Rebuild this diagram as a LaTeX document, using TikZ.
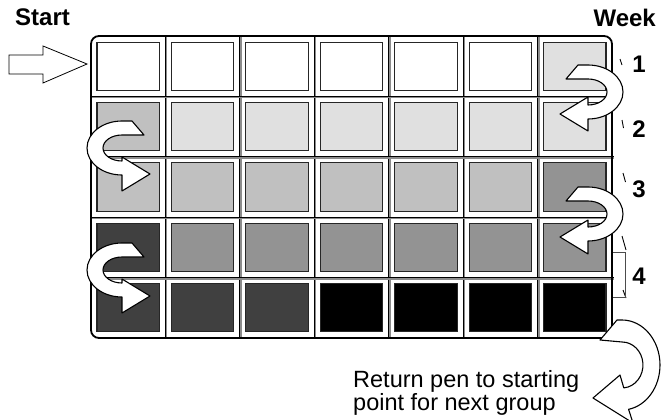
\documentclass[tikz,border=0pt]{standalone}
\usepackage{fontspec}
\setmainfont{Liberation Sans}
\definecolor{cA}{HTML}{FFFFFF}
\definecolor{cB}{HTML}{E0E0E0}
\definecolor{cC}{HTML}{C0C0C0}
\definecolor{cD}{HTML}{939393}
\definecolor{cE}{HTML}{404040}
\definecolor{cF}{HTML}{000000}
\newcommand\turnshape[1]{(-22,-13) -- (-10,-27) -- (0,-27)
  arc[start angle=-90,end angle=90,x radius=35,y radius=27]
  -- (0,{39+#1}) -- (-28,{22+#1}) -- (0,{5+#1}) -- (0,13)
  arc[start angle=90,end angle=-90,x radius=19,y radius=13] -- cycle}
\begin{document}
\begin{tikzpicture}[x=1pt,y=-1pt,
  lbl/.style={font=\bfseries\fontsize{24}{24}\selectfont, inner sep=0pt},
  plain/.style={font=\fontsize{23.5}{23}\selectfont, inner sep=0pt, anchor=base west},
  cellbox/.style={draw=black!85, line width=1.1pt, minimum width=62.4pt, minimum height=48.2pt, inner sep=0pt},
  gridgray/.style={draw=black!45, line width=2.4pt},
  gridblack/.style={draw=black, line width=0.9pt},
  turn/.style={draw=black, fill=white, line width=1.1pt, line join=round},
  tick/.style={draw=black, line width=0.9pt}]
\useasboundingbox (0,0) rectangle (662,420);
\clip (0,0) rectangle (662,420);
% grid lines
\foreach \i in {1,...,6} {
  \draw[gridgray] ({91+74.43*\i+0.8},36) -- ({91+74.43*\i+0.8},338);
  \draw[gridblack] ({91+74.43*\i},36) -- ({91+74.43*\i},338);
}
\foreach \j in {1,...,4} {
  \draw[gridgray] (91,{36+60.4*\j+0.8}) -- (614,{36+60.4*\j+0.8});
  \draw[gridblack] (91,{36+60.4*\j}) -- (614,{36+60.4*\j});
}
\draw[black, line width=1.8pt, rounded corners=8pt] (91,36) rectangle (612,338);
% cells
\foreach \r/\row in {1/{cA,cA,cA,cA,cA,cA,cB},
                     2/{cC,cB,cB,cB,cB,cB,cB},
                     3/{cC,cC,cC,cC,cC,cC,cD},
                     4/{cE,cD,cD,cD,cD,cD,cD},
                     5/{cE,cE,cE,cF,cF,cF,cF}} {
  \foreach \col [count=\c] in \row {
    \node[cellbox, fill=\col] (cell-\r-\c) at ({91+74.43*(\c-0.5)},{36+60.4*(\r-0.5)}) {};
  }
}
% labels
\node[lbl, anchor=base west] (start) at (15,26) {Start};
\node[lbl, anchor=base east] (week) at (656,27) {Week};
\node[lbl, anchor=base] (w1) at (639,73) {1};
\node[lbl, anchor=base] (w2) at (639,137) {2};
\node[lbl, anchor=base] (w3) at (639,197) {3};
\node[lbl, anchor=base] (w4) at (639,284) {4};
\draw[tick] (620,59) -- (622,65);
\draw[tick] (622,120) -- (623.5,128);
\draw[tick] (623,173) -- (625.5,182);
\draw[tick] (622,236) -- (626,250);
\draw[tick] (623,290) -- (626,298);
\draw[draw=black!70, line width=0.8pt] (613,252) -- (625,252) -- (625,297) -- (613,297);
% start arrow
\draw[fill=white, draw=black, line width=0.8pt, line join=miter]
  (9,55) -- (43,55) -- (43,46) -- (87,64) -- (43,83) -- (43,74) -- (9,74) -- cycle;
% U-turn arrows
\begin{scope}[shift={(588,92)}]
  \draw[turn] \turnshape{0};
\end{scope}
\begin{scope}[shift={(588,214)}]
  \draw[turn] \turnshape{1};
\end{scope}
\begin{scope}[shift={(122,148)}, xscale=-1]
  \draw[turn] \turnshape{4};
\end{scope}
\begin{scope}[shift={(122,270)}, xscale=-1]
  \draw[turn] \turnshape{4};
\end{scope}
\draw[turn] (600,340) -- (617,320) -- (622,320)
  arc[start angle=-90,end angle=80,x radius=38,y radius=45]
  -- (633,423) -- (593,398) -- (620,375) -- (623.8,387.9)
  arc[start angle=85,end angle=-90,x radius=21,y radius=23] -- cycle;
% return text
\node[plain] (ret1) at (353,387) {Return pen to starting};
\node[plain] (ret2) at (353,410) {point for next group};
\end{tikzpicture}
\end{document}
